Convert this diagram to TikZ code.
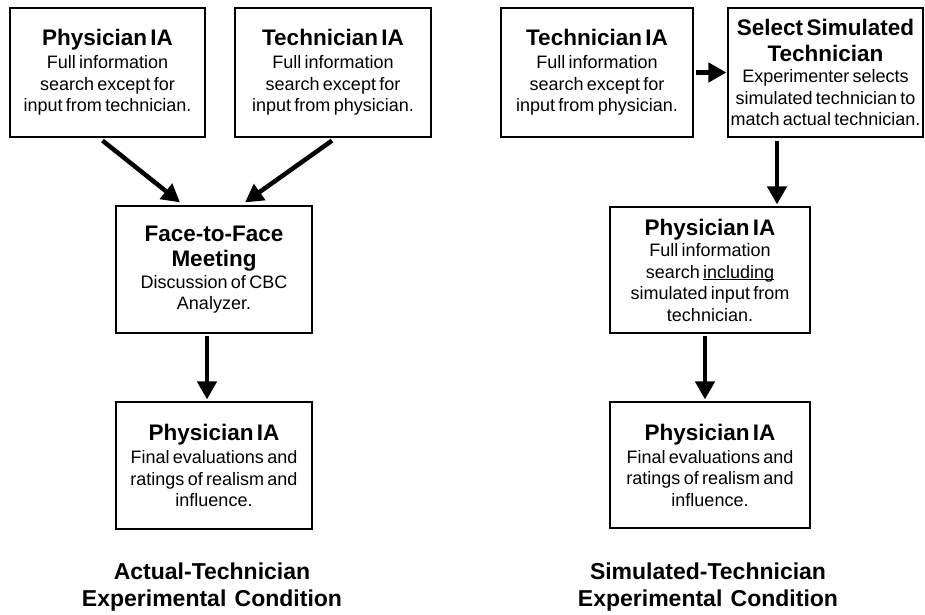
\documentclass[tikz,border=0pt]{standalone}
\usepackage{fontspec}
\setmainfont[WordSpace=1.3]{Liberation Sans}
\usetikzlibrary{arrows.meta,calc}
\newcommand{\titlef}{\fontsize{22.5}{25.5}\selectfont\bfseries}
\newcommand{\bodyf}{\fontsize{18}{21.5}\selectfont}
\newcommand{\labf}{\fontsize{23}{27.5}\selectfont\bfseries}
\newcommand{\ulword}[1]{\setbox0\hbox{#1}\rlap{\rule[-2.2pt]{\wd0}{0.9pt}}\box0}
\begin{document}
\begin{tikzpicture}[x=1pt,y=1pt,
  box/.style={draw=black, line width=1.2pt, align=center, text width=190pt, inner xsep=1pt, inner ysep=2pt},
  arr/.style={line width=4.5pt, -{Triangle[length=18pt,width=19pt]}},
  lab/.style={align=center, font=\labf}]
\useasboundingbox[fill=white] (0,0) rectangle (925,-614);

% left condition
\node[box, minimum width=195pt, minimum height=129pt] (b1) at (107.5,-72.5)
  {{\titlef Physician IA\par}\vspace{1.5pt}{\bodyf Full information\\search except for\\input from technician.\par}};
\node[box, minimum width=196pt, minimum height=129pt] (b2) at (333,-72.5)
  {{\titlef Technician IA\par}\vspace{1.5pt}{\bodyf Full information\\search except for\\input from physician.\par}};
\node[box, minimum width=196pt, minimum height=127pt] (face) at (214,-269.5)
  {{\titlef Face-to-Face\\Meeting\par}{\bodyf Discussion of CBC\\Analyzer.\par}};
\node[box, minimum width=196pt, minimum height=127pt] (bl) at (214,-465.5)
  {{\titlef Physician IA\par}\vspace{1.5pt}{\bodyf Final evaluations and\\ratings of realism and\\influence.\par}};

% right condition
\node[box, minimum width=192pt, minimum height=129pt] (b3) at (597,-72.5)
  {{\titlef Technician IA\par}\vspace{1.5pt}{\bodyf Full information\\search except for\\input from physician.\par}};
\node[box, text width=195pt, inner xsep=0pt, minimum width=195pt, minimum height=129pt] (b4) at (825.5,-72.5)
  {{\titlef Select Simulated\\Technician\par}{\bodyf Experimenter selects\\simulated technician to\\match actual technician.\par}};
\node[box, minimum width=200pt, minimum height=126pt] (b5) at (710,-270)
  {{\titlef Physician IA\par}{\bodyf Full information\\search \ulword{including}\\simulated input from\\technician.\par}};
\node[box, minimum width=200pt, minimum height=126pt] (b6) at (710,-465)
  {{\titlef Physician IA\par}\vspace{1.5pt}{\bodyf Final evaluations and\\ratings of realism and\\influence.\par}};

% labels
\node[lab] (l1) at (212,-587) {Actual-Technician\\Experimental Condition};
\node[lab] (l2) at (708,-587) {Simulated-Technician\\Experimental Condition};

% arrows
\draw[arr] ([xshift=-5pt,yshift=-3pt]b1.south) -- ([xshift=-34pt,yshift=3pt]face.north);
\draw[arr] ([xshift=-1pt,yshift=-3pt]b2.south) -- ([xshift=31pt,yshift=3pt]face.north);
\draw[arr] ([xshift=-7pt,yshift=-2pt]face.south) -- ([xshift=-7pt,yshift=2pt]bl.north);
\draw[arr] ([xshift=2pt]b3.east) -- ([xshift=-1pt]b4.west);
\coordinate (c4) at ([xshift=-48.5pt,yshift=-3pt]b4.south);
\coordinate (c5) at ([yshift=2pt]c4 |- b5.north);
\draw[arr] (c4) -- (c5);
\draw[arr] ([xshift=-5pt,yshift=-2pt]b5.south) -- ([xshift=-5pt,yshift=2pt]b6.north);
\end{tikzpicture}
\end{document}
